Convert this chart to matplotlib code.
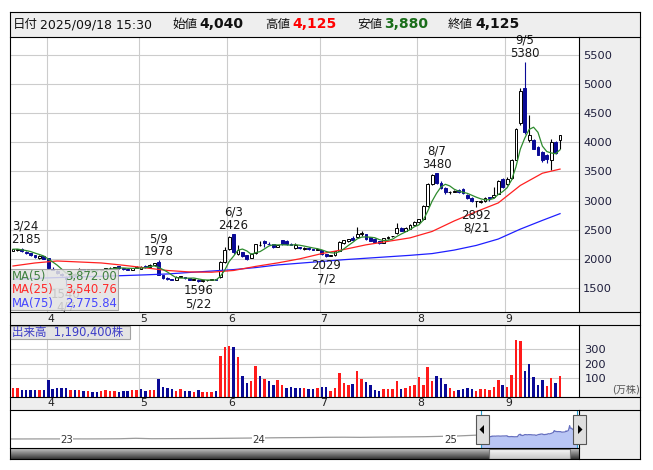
import numpy as np
import pandas as pd
import matplotlib
matplotlib.use("Agg")
import matplotlib.pyplot as plt
import matplotlib.transforms as mtransforms
from matplotlib.patches import Rectangle, Polygon
from matplotlib.lines import Line2D

plt.rcParams['font.family'] = ['DejaVu Sans', 'Noto Sans CJK JP']

### data ######################################################################

holidays = ['2025-03-20', '2025-04-29', '2025-05-05', '2025-05-06',
            '2025-07-21', '2025-08-11', '2025-09-15']
dates = pd.bdate_range('2025-03-19', '2025-09-18', freq='C', holidays=holidays)

opens = [2140, 2150, 2175, 2125, 2100, 2060, 2010, 2040,
         2010, 1830, 1790, 1740, 1680, 1700, 1740, 1800, 1820, 1800, 1825, 1810, 1800, 1820, 1840, 1850, 1870, 1840, 1830, 1815, 1840,
         1830, 1870, 1860, 1900, 1950, 1720, 1670, 1650, 1645, 1690, 1690, 1665, 1640, 1645, 1615, 1630, 1640, 1655, 1680, 1950,
         2170, 2420, 2080, 2110, 2060, 2020, 2100, 2230, 2300, 2260, 2250, 2210, 2320, 2300, 2260, 2180, 2200, 2170, 2190, 2170, 2160,
         2150, 2080, 2050, 2060, 2140, 2270, 2300, 2360, 2380, 2420, 2420, 2370, 2340, 2300, 2280, 2360, 2385, 2440, 2530, 2480, 2520, 2580,
         2640, 2680, 2900, 3290, 3470, 3310, 3220, 3140, 3150, 3180, 3200, 3100, 3040, 2990, 2980, 2990, 3060, 3060, 3120, 3370,
         3290, 3380, 3700, 4330, 4930, 4040, 4040, 3920, 3840, 3780, 3690, 4000, 4040]
highs = [2170, 2175, 2185, 2135, 2105, 2070, 2060, 2045,
         2015, 1855, 1800, 1760, 1700, 1780, 1750, 1840, 1825, 1830, 1830, 1815, 1825, 1845, 1860, 1865, 1880, 1850, 1835, 1845, 1870,
         1880, 1890, 1910, 1930, 1978, 1730, 1680, 1660, 1700, 1710, 1695, 1670, 1655, 1650, 1635, 1645, 1655, 1660, 1960, 2200,
         2390, 2426, 2240, 2120, 2070, 2100, 2260, 2300, 2330, 2290, 2260, 2240, 2330, 2320, 2280, 2270, 2210, 2200, 2200, 2175, 2190,
         2160, 2090, 2070, 2140, 2300, 2330, 2345, 2400, 2552, 2470, 2430, 2380, 2350, 2310, 2360, 2390, 2400, 2610, 2540, 2540, 2590, 2650,
         2690, 2920, 3300, 3460, 3480, 3330, 3240, 3170, 3190, 3200, 3210, 3110, 3060, 3000, 3010, 3060, 3070, 3240, 3360, 3390,
         3400, 3720, 4250, 4930, 5380, 4470, 4060, 3940, 3850, 3800, 4050, 4020, 4125]
lows = [2130, 2140, 2120, 2090, 2055, 2020, 2000, 1990,
        1830, 1800, 1740, 1700, 1540, 1690, 1690, 1790, 1790, 1795, 1800, 1790, 1795, 1815, 1835, 1845, 1830, 1815, 1805, 1810, 1835,
        1825, 1850, 1855, 1890, 1720, 1660, 1640, 1630, 1640, 1680, 1660, 1640, 1630, 1596, 1610, 1620, 1630, 1630, 1670, 1930,
        2150, 2090, 2060, 2030, 1980, 2010, 2090, 2220, 2200, 2230, 2180, 2200, 2240, 2240, 2230, 2170, 2170, 2160, 2160, 2150, 2150,
        2060, 2029, 2040, 2050, 2130, 2260, 2290, 2320, 2370, 2400, 2330, 2300, 2280, 2260, 2270, 2340, 2370, 2430, 2470, 2470, 2510, 2570,
        2620, 2670, 2890, 3260, 3290, 3200, 3120, 3110, 3140, 3130, 3120, 3030, 2970, 2892, 2960, 2980, 2990, 3050, 3110, 3220,
        3260, 3370, 3690, 4300, 4150, 4010, 3880, 3780, 3670, 3650, 3525, 3800, 3880]
closes = [2165, 2170, 2130, 2100, 2060, 2030, 2050, 2000,
          1840, 1810, 1760, 1720, 1650, 1760, 1720, 1830, 1800, 1825, 1810, 1800, 1820, 1840, 1850, 1860, 1840, 1825, 1815, 1840, 1865,
          1860, 1855, 1900, 1920, 1730, 1670, 1650, 1640, 1690, 1700, 1665, 1645, 1650, 1615, 1630, 1640, 1650, 1640, 1940, 2160,
          2380, 2110, 2150, 2040, 2000, 2090, 2250, 2240, 2270, 2250, 2200, 2230, 2260, 2250, 2240, 2235, 2180, 2190, 2170, 2160, 2170,
          2080, 2050, 2065, 2130, 2290, 2320, 2340, 2330, 2430, 2440, 2345, 2310, 2290, 2270, 2350, 2380, 2390, 2530, 2480, 2530, 2580, 2640,
          2680, 2900, 3290, 3440, 3310, 3220, 3140, 3150, 3160, 3140, 3130, 3040, 2990, 2995, 3000, 3040, 3050, 3100, 3340, 3240,
          3370, 3700, 4230, 4880, 4180, 4120, 3890, 3790, 3700, 3710, 4000, 3825, 4125]
# volume in 万株
volumes = [37, 32, 23, 21, 23, 23, 23, 23,
           92, 30, 34, 34, 34, 23, 23, 23, 14, 14, 9, 9, 16, 23, 16, 16, 9, 14, 16, 21, 23,
           30, 14, 23, 23, 99, 41, 34, 30, 16, 30, 16, 16, 9, 23, 9, 9, 9, 16, 252, 316,
           323, 316, 245, 117, 71, 83, 186, 117, 97, 83, 55, 90, 55, 37, 41, 37, 32, 32, 28, 28, 37,
           41, 41, 16, 32, 140, 71, 55, 62, 152, 97, 78, 55, 21, 16, 25, 25, 25, 83, 28, 37, 48, 55,
           108, 55, 179, 83, 120, 101, 62, 32, 14, 21, 28, 32, 25, 14, 25, 28, 21, 39, 90, 55,
           39, 124, 366, 359, 152, 200, 108, 55, 90, 48, 103, 69, 119.04]

# 25/75 day averages every 5 sessions
ma_idx = list(range(0, 125, 5)) + [124]
ma25 = [1877, 1929, 1963, 1946, 1929, 1890, 1845, 1800, 1775, 1770, 1800, 1870, 1930,
        2000, 2090, 2160, 2240, 2300, 2360, 2470, 2650, 2810, 2960, 3260, 3470, 3540.76]
ma75 = [1650, 1665, 1678, 1690, 1700, 1712, 1725, 1740, 1766, 1790, 1815, 1850, 1895,
        1925, 1955, 1985, 2010, 2035, 2060, 2090, 2150, 2230, 2340, 2510, 2660, 2775.84]

# navigator history (monthly)
nav_months = pd.date_range('2022-10-01', '2025-02-01', freq='MS')
nav_closes = [980, 990, 1000,
              1000, 1010, 1000, 1020, 1050, 1180, 1060, 1080, 1100, 1120, 1150, 1200,
              1250, 1300, 1350, 1380, 1420, 1480, 1500, 1460, 1520, 1560, 1600, 1650,
              1750, 1850]

marks_high = ['2025-03-24', '2025-05-09', '2025-06-03', '2025-08-07', '2025-09-05']
marks_low = ['2025-04-07', '2025-05-22', '2025-07-02', '2025-08-21']

### layout helpers (pixel coords of a 653x470 image) ##########################

W, H = 653, 470
fig = plt.figure(figsize=(W / 100, H / 100), dpi=100)
fig.patch.set_facecolor('white')


def fx(x):
    return x / W


def fy(y):
    return 1 - y / H


def box(x0, y0, x1, y1):
    return [fx(x0), fy(y1), fx(x1) - fx(x0), fy(y0) - fy(y1)]


def frect(x0, y0, x1, y1, z=-1, **kw):
    fig.add_artist(Rectangle((fx(x0), fy(y1)), fx(x1) - fx(x0), fy(y0) - fy(y1),
                             transform=fig.transFigure, zorder=z, **kw))


def fline(x0, y0, x1, y1, color='black', lw=0.8, z=6):
    fig.add_artist(Line2D([fx(x0), fx(x1)], [fy(y0), fy(y1)], transform=fig.transFigure,
                          color=color, lw=lw, zorder=z))


def ftext(x, y, s, **kw):
    fig.text(fx(x), fy(y), s, **kw)


NAVY = '#0a0a96'
RED = '#ff1a1a'
GRID = '#cccccc'
PANEL = '#eeeeee'

n = len(dates)
idx = np.arange(n)
o = np.array(opens, float)
h = np.array(highs, float)
l = np.array(lows, float)
c = np.array(closes, float)
v = np.array(volumes, float)
ma5 = pd.Series(c).rolling(5, min_periods=1).mean().values

month_starts = [i for i in range(1, n) if dates[i].month != dates[i - 1].month]

# background panels
frect(10, 12, 640, 37, facecolor=PANEL)
frect(579, 37, 640, 459, facecolor=PANEL)
frect(10, 312, 640, 325, facecolor=PANEL)
frect(10, 397, 640, 410, facecolor=PANEL)

XLIM = (-0.68, 128.3)

### price panel ##############################################################

ax = fig.add_axes(box(10, 37, 579, 312))
ax.set_xlim(*XLIM)
ax.set_ylim(1087, 5809)
for s in ax.spines.values():
    s.set_visible(False)
ax.set_axisbelow(True)
ax.set_xticks([i - 0.38 for i in month_starts])
ax.set_yticks(range(1500, 6000, 500))
ax.grid(True, color=GRID, lw=0.8)
ax.yaxis.tick_right()
ax.tick_params(axis='x', length=0, labelbottom=False)
ax.tick_params(axis='y', length=0, pad=3, labelsize=8.2, labelcolor='#1e1e3c')

up = c >= o
body_lo = np.minimum(o, c)
body_h = np.maximum(np.abs(c - o), 10)
ax.vlines(idx[up], l[up], h[up], color='black', lw=0.8, zorder=2)
ax.vlines(idx[~up], l[~up], h[~up], color=NAVY, lw=0.8, zorder=2)
ax.bar(idx[up], body_h[up], bottom=body_lo[up], width=0.64, facecolor='white',
       edgecolor='black', linewidth=0.7, zorder=2.5)
ax.bar(idx[~up], body_h[~up], bottom=body_lo[~up], width=0.64, facecolor=NAVY,
       edgecolor=NAVY, linewidth=0.7, zorder=2.5)

ax.plot(ma_idx, ma75, color='#1f1fff', lw=0.9, zorder=3)
ax.plot(ma_idx, ma25, color='#ff2020', lw=0.9, zorder=3)
ax.plot(idx, ma5, color='#2e8b2e', lw=0.9, zorder=3)

for d in marks_high:
    i = dates.get_loc(pd.Timestamp(d))
    txt = f"{dates[i].month}/{dates[i].day}\n{highs[i]}"
    if i < 4:
        ax.annotate(txt, xy=(i, h[i]), xytext=(-8, 1.5), textcoords='offset points',
                    ha='left', va='bottom', fontsize=8.5, linespacing=1.0,
                    multialignment='center', color='#1a1a1a')
    else:
        ax.annotate(txt, xy=(i, h[i]), xytext=(0, 1.5), textcoords='offset points',
                    ha='center', va='bottom', fontsize=8.5, linespacing=1.0,
                    multialignment='center', color='#1a1a1a')
for d in marks_low:
    i = dates.get_loc(pd.Timestamp(d))
    txt = f"{lows[i]}\n{dates[i].month}/{dates[i].day}"
    ax.annotate(txt, xy=(i, l[i]), xytext=(0, -1.5), textcoords='offset points',
                ha='center', va='top', fontsize=8.5, linespacing=1.0,
                multialignment='center', color='#1a1a1a')

# month labels under price panel
trans = mtransforms.blended_transform_factory(ax.transData, ax.transAxes)
for i in month_starts:
    ax.text(i + 0.5, -(318.5 - 312) / 275, str(dates[i].month), transform=trans,
            ha='center', va='center', fontsize=7.8, color='#222222')

# moving-average legend box
frect(10, 269, 118, 310, z=4, facecolor='#e2e2e2', edgecolor='#9a9a9a', lw=0.8, alpha=0.86)
for yy, name, val, col in [(276.5, 'MA(5)', ma5[-1], '#3f803f'),
                           (290, 'MA(25)', ma25[-1], '#ff2a2a'),
                           (303.5, 'MA(75)', ma75[-1], '#4646ff')]:
    ftext(12, yy, name, color=col, fontsize=8.4, va='center', ha='left', zorder=7)
    ftext(117, yy, f"{val:,.2f}", color=col, fontsize=8.4, va='center', ha='right', zorder=7)

### volume panel #############################################################

VOL_LO = -28
axv = fig.add_axes(box(10, 325, 579, 397))
axv.set_xlim(*XLIM)
axv.set_ylim(VOL_LO, 469)
for s in axv.spines.values():
    s.set_visible(False)
axv.set_axisbelow(True)
axv.set_xticks([i - 0.38 for i in month_starts])
axv.set_yticks([100, 200, 300])
axv.grid(True, color=GRID, lw=0.8)
axv.yaxis.tick_right()
axv.tick_params(axis='x', length=0, labelbottom=False)
axv.tick_params(axis='y', length=0, pad=4, labelsize=8.2, labelcolor='#1e1e3c')

prev = np.r_[o[0], c[:-1]]
vcol = [RED if c[i] >= prev[i] else NAVY for i in range(n)]
axv.bar(idx, v - VOL_LO, bottom=VOL_LO, width=0.56, color=vcol, zorder=2)

transv = mtransforms.blended_transform_factory(axv.transData, axv.transAxes)
for i in month_starts:
    axv.text(i + 0.5, -(403.5 - 397) / 72, str(dates[i].month), transform=transv,
             ha='center', va='center', fontsize=7.8, color='#222222')

ftext(626, 390, '(万株)', fontsize=7.2, color='#555555', ha='center', va='center')
frect(10, 326, 130, 339, z=4, facecolor='#e2e2e2', edgecolor='#9a9a9a', lw=0.8, alpha=0.9)
ftext(12, 332.5, f"出来高  {int(round(v[-1] * 10000)):,}株", fontsize=8.3,
      color='#3c3cc8', va='center', ha='left', zorder=7)

### navigator ################################################################


def dyear(d):
    return d.year + (d.dayofyear - 0.5) / 365.0


t_main = np.array([dyear(d) for d in dates])
t_hist = np.array([dyear(d) for d in nav_months])
NAV_PX_YEAR = 192.0
axn = fig.add_axes(box(10, 410, 579, 448))
axn.set_xlim(t_main[0] - 471 / NAV_PX_YEAR, t_main[-1] + 2 / NAV_PX_YEAR)
NAV_LO, NAV_HI = -1672, 9500
axn.set_ylim(NAV_LO, NAV_HI)
axn.axis('off')
axn.plot(np.r_[t_hist, t_main[0]], np.r_[nav_closes, c[0]], color='#9a9a9a', lw=0.9)
axn.fill_between(t_main, c, NAV_LO, color='#b9c6f5', lw=0)
axn.plot(t_main, c, color='#6670c0', lw=0.9)
axn.axvline(t_main[0], color='#2aa0d0', lw=0.8)
axn.axvline(t_main[-1], color='#2aa0d0', lw=0.8)
transn = mtransforms.blended_transform_factory(axn.transData, axn.transAxes)
for yr in [2023, 2024, 2025]:
    axn.text(yr + 0.02, (448 - 440) / 38, str(yr)[2:], transform=transn, fontsize=7.4,
             color='#333333', ha='left', va='center',
             bbox=dict(facecolor='white', edgecolor='none', pad=0.3))

# handles
for x0, tri in [(476, [(479.5, 429.5), (484, 425), (484, 434)]),
                (573, [(582.5, 429.5), (578, 425), (578, 434)])]:
    frect(x0, 415, x0 + 13, 444, z=7, facecolor='#dedede', edgecolor='#555555', lw=0.8)
    fig.add_artist(Polygon([(fx(a), fy(b)) for a, b in tri], closed=True,
                           transform=fig.transFigure, facecolor='black', zorder=8))

# scrollbar
axs = fig.add_axes(box(10, 448, 579, 459))
axs.axis('off')
axs.set_xlim(10, 579)
axs.set_ylim(459, 448)
grad = np.linspace(0.78, 0.22, 20).reshape(-1, 1)
axs.imshow(grad, extent=(10, 579, 459, 448), aspect='auto', cmap='gray', vmin=0, vmax=1)
grad2 = np.linspace(0.97, 0.78, 20).reshape(-1, 1)
axs.imshow(grad2, extent=(489, 570, 459, 449), aspect='auto', cmap='gray', vmin=0, vmax=1)
axs.add_patch(Rectangle((489, 449), 81, 10, facecolor='none', edgecolor='#777777', lw=0.8))

### header ###################################################################

last = dates[-1]
hy = 24.5
ftext(13, hy, '日付', fontsize=9, va='center', color='#111111')
ftext(40, hy, last.strftime('%Y/%m/%d') + ' 15:30', fontsize=9, va='center', color='#111111')
ftext(172, hy, '始値', fontsize=9, va='center', color='#111111')
ftext(199, hy, f"{opens[-1]:,}", fontsize=10, fontweight='bold', va='center', color='#111111')
ftext(265, hy, '高値', fontsize=9, va='center', color='#111111')
ftext(292, hy, f"{highs[-1]:,}", fontsize=10, fontweight='bold', va='center', color='#ff0000')
ftext(357, hy, '安値', fontsize=9, va='center', color='#111111')
ftext(384, hy, f"{lows[-1]:,}", fontsize=10, fontweight='bold', va='center', color='#1a6e1a')
ftext(448, hy, '終値', fontsize=9, va='center', color='#111111')
ftext(475, hy, f"{closes[-1]:,}", fontsize=10, fontweight='bold', va='center', color='#111111')

### frame lines ##############################################################

fline(10, 12, 640, 12)
fline(10, 459, 640, 459)
fline(10, 12, 10, 459)
fline(640, 12, 640, 459)
for yy in [37, 312, 325, 397, 410]:
    fline(10, yy, 640, yy)
fline(10, 448, 579, 448)
fline(579, 37, 579, 312)
fline(579, 325, 579, 397)
fline(579, 410, 579, 459)

fig.savefig('out.png', dpi=100)
